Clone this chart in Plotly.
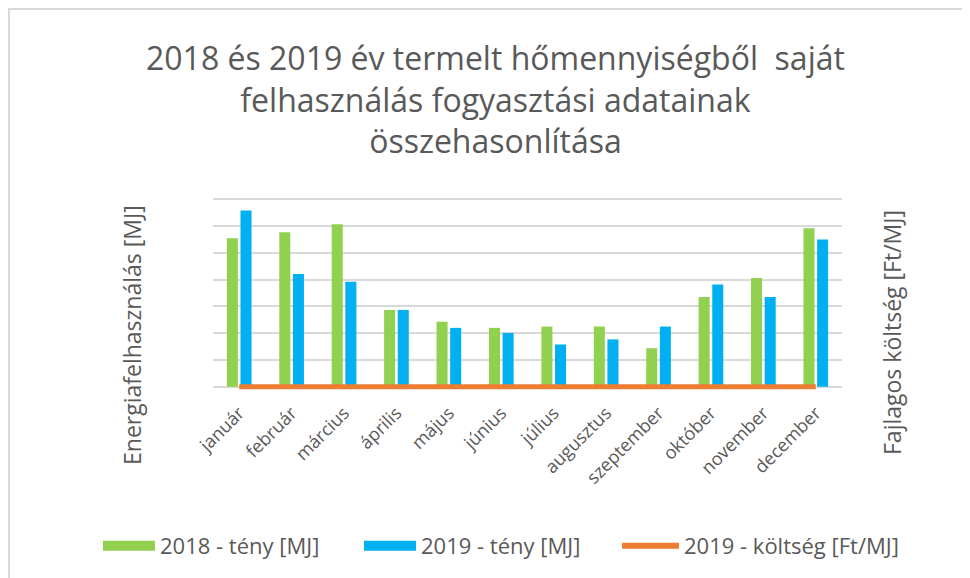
import plotly.graph_objects as go

months = ["január", "február", "március", "április", "május", "június",
          "július", "augusztus", "szeptember", "október", "november", "december"]
teny_2018 = [5.55, 5.77, 6.07, 2.87, 2.43, 2.20, 2.25, 2.25, 1.44, 3.35, 4.06, 5.92]
teny_2019 = [6.58, 4.21, 3.92, 2.87, 2.20, 2.01, 1.58, 1.77, 2.25, 3.82, 3.35, 5.50]
koltseg_2019 = [0, 0, 0, 0, 0, 0, 0, 0, 0, 0, 0, 0]

names = ["2018 - tény [MJ]", "2019 - tény [MJ]", "2019 - költség [Ft/MJ]"]
GREEN, BLUE, ORANGE = "#92d050", "#00b0f0", "#ed7d31"

W, H = 962, 570
FONT = "Open Sans"
GREY = "#595959"
L, R, T, B = 205, 128, 190, 188
PW, PH = W - L - R, H - T - B
plot_bot = H - B


def px(x):
    return (x - L) / PW


def py(y):
    return (plot_bot - y) / PH


fig = go.Figure()
fig.add_trace(go.Bar(x=months, y=teny_2018, name=names[0], showlegend=False,
                     marker=dict(color=GREEN, line=dict(width=0))))
fig.add_trace(go.Bar(x=months, y=teny_2019, name=names[1], showlegend=False,
                     marker=dict(color=BLUE, line=dict(width=0))))
fig.add_trace(go.Scatter(x=months, y=koltseg_2019, name=names[2], showlegend=False,
                         mode="lines", line=dict(color=ORANGE, width=5),
                         yaxis="y2", cliponaxis=False))
# legend entries (wide swatches like the original), one legend box each
for nm, col, w, lg in [(names[0], GREEN, 15, "legend"), (names[1], BLUE, 15, "legend2"),
                       (names[2], ORANGE, 6, "legend3")]:
    fig.add_trace(go.Scatter(x=[None], y=[None], name=nm, mode="lines",
                             line=dict(color=col, width=w), showlegend=True, legend=lg))

leg_common = dict(orientation="h", xanchor="left", y=py(538), yanchor="middle",
                  font=dict(size=22, color=GREY, family=FONT), bgcolor="rgba(0,0,0,0)")

fig.update_layout(
    width=W, height=H,
    paper_bgcolor="white", plot_bgcolor="white",
    margin=dict(l=L, r=R, t=T, b=B, autoexpand=False),
    font=dict(family=FONT, color=GREY),
    bargap=0.48, bargroupgap=0.19,
    xaxis=dict(tickangle=-45, tickfont=dict(size=18, color=GREY),
               showline=False, ticks="", ticklabelstandoff=8, showgrid=False),
    yaxis=dict(range=[-0.12, 7.05], dtick=1, tick0=0, showticklabels=False,
               showgrid=True, gridcolor="#d9d9d9", gridwidth=2,
               zeroline=True, zerolinecolor="#d9d9d9", zerolinewidth=2,
               showline=False, ticks=""),
    yaxis2=dict(range=[-0.12, 7.05], overlaying="y", side="right",
                showticklabels=False, showgrid=False, zeroline=False, ticks=""),
    legend=dict(x=px(90), itemwidth=52, **leg_common),
    legend2=dict(x=px(351), itemwidth=52, **leg_common),
    legend3=dict(x=px(609), itemwidth=57, **leg_common),
    annotations=[
        dict(text="2018 és 2019 év termelt hőmennyiségből  saját<br>felhasználás fogyasztási adatainak<br>összehasonlítása",
             xref="paper", yref="paper", x=px(487), y=py(91),
             xanchor="center", yanchor="middle", showarrow=False,
             font=dict(family=FONT, size=32, color=GREY)),
        dict(text="Energiafelhasználás [MJ]", xref="paper", yref="paper",
             x=px(124), y=py(327), xanchor="center", yanchor="middle",
             textangle=-90, showarrow=False,
             font=dict(size=23, color=GREY, family=FONT)),
        dict(text="Fajlagos költség [Ft/MJ]", xref="paper", yref="paper",
             x=px(884), y=py(325), xanchor="center", yanchor="middle",
             textangle=-90, showarrow=False,
             font=dict(size=23, color=GREY, family=FONT)),
    ],
    shapes=[
        dict(type="line", xref="paper", yref="paper",
             x0=px(0), x1=px(W), y0=py(1), y1=py(1),
             line=dict(color="#d9d9d9", width=2)),
        dict(type="line", xref="paper", yref="paper",
             x0=px(1), x1=px(1), y0=py(1), y1=py(H),
             line=dict(color="#d9d9d9", width=2)),
    ],
)

fig.write_html("out.html")
